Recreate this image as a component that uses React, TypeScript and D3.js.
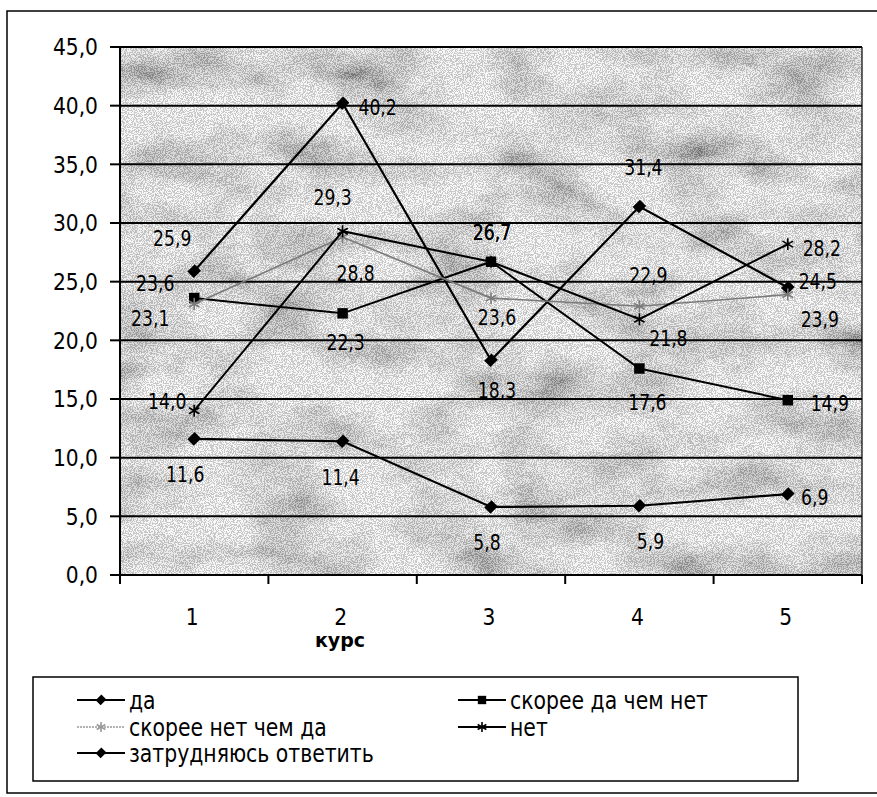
import React from 'react'
import * as d3 from 'd3'

// course numbers on the x axis
const categories = ['1', '2', '3', '4', '5']
const yTicks = [0, 5, 10, 15, 20, 25, 30, 35, 40, 45]

// answer shares, %
const da = [25.9, 40.2, 18.3, 31.4, 24.5]
const skoreeDa = [23.6, 22.3, 26.7, 17.6, 14.9]
const skoreeNet = [23.1, 28.8, 23.6, 22.9, 23.9]
const net = [14.0, 29.3, 26.7, 21.8, 28.2]
const zatrud = [11.6, 11.4, 5.8, 5.9, 6.9]

// hand-placed data label nudges (dx, dy from the point)
const daLabelNudge: [number, number][] = [[-22, -33], [35, 4], [6, 30], [4, -39], [30, -6]]
const skoreeDaLabelNudge: [number, number][] = [[-39, -15], [3, 29], [1, -29], [8, 34], [42, 3]]
const skoreeNetLabelNudge: [number, number][] = [[-44, 14], [13, 36], [6, 19], [9, -31], [32, 25]]
const netLabelNudge: [number, number][] = [[-27, -9], [-10, -34], [1, -29], [29, 19], [34, 4]]
const zatrudLabelNudge: [number, number][] = [[-9, 36], [-2, 36], [-4, 35], [11, 36], [27, 3]]

type Marker = 'diamond' | 'square' | 'asterisk'

interface Series {
  name: string
  values: number[]
  nudge: [number, number][]
  marker: Marker
  color: string
  width: number
}

const series: Series[] = [
  { name: 'да', values: da, nudge: daLabelNudge, marker: 'diamond', color: '#000', width: 2.2 },
  { name: 'скорее да чем нет', values: skoreeDa, nudge: skoreeDaLabelNudge, marker: 'square', color: '#000', width: 2 },
  { name: 'скорее нет чем да', values: skoreeNet, nudge: skoreeNetLabelNudge, marker: 'asterisk', color: '#7a7a7a', width: 1.6 },
  { name: 'нет', values: net, nudge: netLabelNudge, marker: 'asterisk', color: '#000', width: 2 },
  { name: 'затрудняюсь ответить', values: zatrud, nudge: zatrudLabelNudge, marker: 'diamond', color: '#000', width: 2.2 },
]

const W = 877
const H = 797
const plot = { left: 120, right: 862, top: 47, bottom: 575 }
const FONT = "'DejaVu Sans', sans-serif"

const fmt = (v: number) => d3.format('.1f')(v).replace('.', ',')

// condensed text: the scan uses a narrow face, so squeeze DejaVu horizontally
function T({
  x, y, size, sx, anchor = 'start', bold = false, children,
}: {
  x: number; y: number; size: number; sx: number; anchor?: 'start' | 'middle' | 'end'; bold?: boolean; children: React.ReactNode
}) {
  return (
    <text
      transform={`translate(${x},${y}) scale(${sx},1)`}
      dy="0.36em"
      textAnchor={anchor}
      fontSize={size}
      fontWeight={bold ? 'bold' : 'normal'}
      fill="#000"
    >
      {children}
    </text>
  )
}

function markerPath(m: Marker, legend = false) {
  if (m === 'diamond') return d3.symbol(d3.symbolSquare, legend ? 50 : 80)() || ''
  if (m === 'square') return d3.symbol(d3.symbolSquare, legend ? 70 : 110)() || ''
  return d3.symbol(d3.symbolAsterisk, legend ? 70 : 100)() || ''
}

function MarkerGlyph({ m, color, x, y, legend }: { m: Marker; color: string; x: number; y: number; legend?: boolean }) {
  const d = markerPath(m, legend)
  if (m === 'asterisk') {
    return <path d={d} transform={`translate(${x},${y})`} fill="none" stroke={color} strokeWidth={1.6} />
  }
  const rot = m === 'diamond' ? ' rotate(45) scale(1,1.15)' : ''
  return <path d={d} transform={`translate(${x},${y})${rot}`} fill={color} />
}

export default function App() {
  const x = d3.scaleBand<string>().domain(categories).range([plot.left, plot.right])
  const y = d3.scaleLinear().domain([0, 45]).range([plot.bottom, plot.top])
  const cx = (c: string) => (x(c) || 0) + x.bandwidth() / 2

  const line = d3
    .line<number>()
    .x((_, i) => cx(categories[i]))
    .y(d => y(d))

  // category boundaries for the x-axis ticks
  const xTickPos = categories.map(c => x(c) || 0).concat([plot.right])

  const legendRows = [
    { s: series[0], col: 0, row: 0 },
    { s: series[1], col: 1, row: 0 },
    { s: series[2], col: 0, row: 1 },
    { s: series[3], col: 1, row: 1 },
    { s: series[4], col: 0, row: 2 },
  ]
  const legendBox = { x: 33, y: 677, w: 765, h: 104 }
  const legendColX = [77, 458]
  const legendRowY = [700, 727, 753]

  return (
    <svg
      width={W}
      height={H}
      style={{ position: 'absolute', left: 0, top: 0, background: '#fff' }}
      fontFamily={FONT}
    >
      <defs>
        <filter id="blots" x="0" y="0" width="1" height="1">
          <feTurbulence type="fractalNoise" baseFrequency="0.012 0.022" numOctaves={4} seed={5} />
          <feColorMatrix type="matrix" values="1 0 0 0 0  1 0 0 0 0  1 0 0 0 0  0 0 0 0 1" />
          <feComponentTransfer>
            <feFuncR type="linear" slope={1.7} intercept={-0.06} />
            <feFuncG type="linear" slope={1.7} intercept={-0.06} />
            <feFuncB type="linear" slope={1.7} intercept={-0.06} />
          </feComponentTransfer>
        </filter>
        <filter id="grain" x="0" y="0" width="1" height="1">
          <feTurbulence type="fractalNoise" baseFrequency="0.9" numOctaves={1} seed={2} />
          <feColorMatrix type="matrix" values="1 0 0 0 0  1 0 0 0 0  1 0 0 0 0  0 0 0 0 1" />
          <feComponentTransfer>
            <feFuncR type="discrete" tableValues="0.3 1" />
            <feFuncG type="discrete" tableValues="0.3 1" />
            <feFuncB type="discrete" tableValues="0.3 1" />
          </feComponentTransfer>
        </filter>
      </defs>

      {/* outer chart border */}
      <rect x={7} y={11} width={900} height={782} fill="none" stroke="#000" strokeWidth={1.5} />

      {/* plot area with scanned texture */}
      <rect
        x={plot.left}
        y={plot.top}
        width={plot.right - plot.left}
        height={plot.bottom - plot.top}
        fill="#c2c2c2"
      />
      <rect
        x={plot.left}
        y={plot.top}
        width={plot.right - plot.left}
        height={plot.bottom - plot.top}
        filter="url(#blots)"
        opacity={0.8}
      />
      <rect
        x={plot.left}
        y={plot.top}
        width={plot.right - plot.left}
        height={plot.bottom - plot.top}
        filter="url(#grain)"
        opacity={0.42}
      />

      {/* gridlines */}
      {yTicks.map(t => (
        <line key={t} x1={plot.left} x2={plot.right} y1={y(t)} y2={y(t)} stroke="#000" strokeWidth={2} />
      ))}
      <line x1={plot.right} x2={plot.right} y1={plot.top} y2={plot.bottom + 8} stroke="#000" strokeWidth={1.2} />

      {/* y axis */}
      <line x1={plot.left} x2={plot.left} y1={plot.top} y2={plot.bottom} stroke="#000" strokeWidth={2} />
      {yTicks.map(t => (
        <g key={t}>
          <line x1={plot.left - 10} x2={plot.left} y1={y(t)} y2={y(t)} stroke="#000" strokeWidth={2} />
          <T x={98} y={y(t)} size={23} sx={0.88} anchor="end">
            {fmt(t)}
          </T>
        </g>
      ))}

      {/* x axis */}
      <line x1={plot.left} x2={plot.right} y1={plot.bottom} y2={plot.bottom} stroke="#000" strokeWidth={2} />
      {xTickPos.map((p, i) => (
        <line key={i} x1={p} x2={p} y1={plot.bottom} y2={plot.bottom + 9} stroke="#000" strokeWidth={2} />
      ))}
      {categories.map(c => (
        <T key={c} x={cx(c) - 2} y={617} size={23} sx={0.88} anchor="middle">
          {c}
        </T>
      ))}
      <T x={340} y={640} size={20} sx={0.95} anchor="middle" bold>
        курс
      </T>

      {/* series */}
      {series.map(s => (
        <g key={s.name}>
          <path d={line(s.values) || ''} fill="none" stroke={s.color} strokeWidth={s.width} />
          {s.values.map((v, i) => (
            <MarkerGlyph key={i} m={s.marker} color={s.color} x={cx(categories[i])} y={y(v)} />
          ))}
        </g>
      ))}

      {/* data labels */}
      {series.map(s =>
        s.values.map((v, i) => (
          <T
            key={s.name + i}
            x={cx(categories[i]) + s.nudge[i][0]}
            y={y(v) + s.nudge[i][1]}
            size={21}
            sx={0.82}
            anchor="middle"
          >
            {fmt(v)}
          </T>
        ))
      )}

      {/* legend */}
      <rect
        x={legendBox.x}
        y={legendBox.y}
        width={legendBox.w}
        height={legendBox.h}
        fill="#fff"
        stroke="#000"
        strokeWidth={1.5}
      />
      {legendRows.map(({ s, col, row }) => {
        const lx = legendColX[col]
        const ly = legendRowY[row]
        const c = s.color === '#000' ? '#000' : '#9a9a9a'
        return (
          <g key={s.name}>
            <line
              x1={lx}
              x2={lx + 48}
              y1={ly}
              y2={ly}
              stroke={c}
              strokeWidth={s.color === '#000' ? 2 : 1.5}
              strokeDasharray={s.color === '#000' ? undefined : '2 1'}
            />
            <MarkerGlyph m={s.marker} color={c} x={lx + 24} y={ly} legend />
            <T x={lx + 52} y={ly} size={24} sx={0.85}>
              {s.name}
            </T>
          </g>
        )
      })}
    </svg>
  )
}
